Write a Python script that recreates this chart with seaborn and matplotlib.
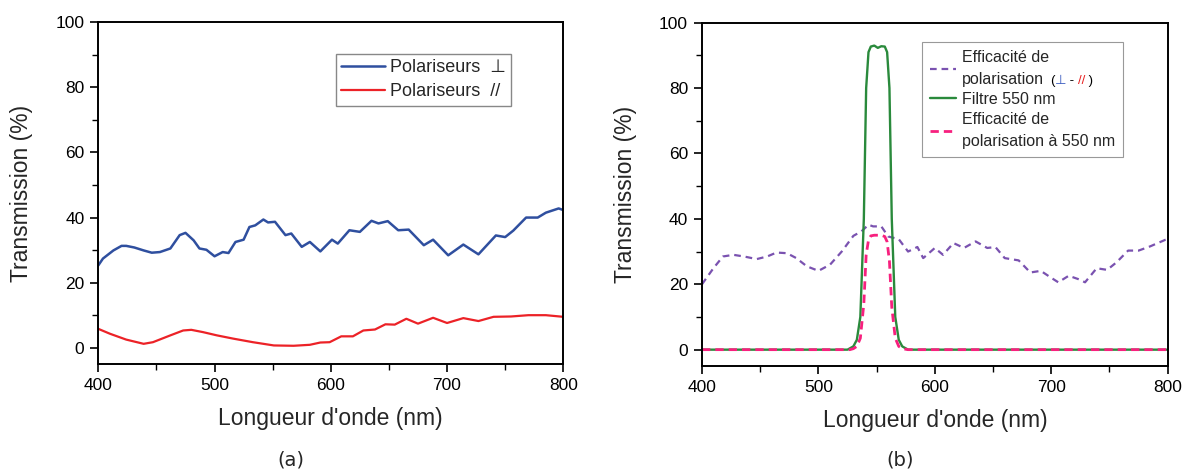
import numpy as np
import pandas as pd
import matplotlib
matplotlib.use("Agg")
import matplotlib.pyplot as plt
from matplotlib.ticker import MultipleLocator
import seaborn as sns

# ---------------- data ----------------
wl_perp = [400, 404, 413, 420, 424, 431, 439, 446, 453, 462, 470, 475, 482, 487, 493, 500,
           507, 512, 518, 525, 530, 535, 542, 546, 552, 561, 566, 575, 582, 591, 601, 606,
           616, 625, 635, 641, 649, 658, 667, 680, 688, 701, 714, 727, 742, 750, 757, 768,
           778, 785, 796, 800]
t_perp = [25.3, 27.4, 29.9, 31.3, 31.3, 30.8, 29.9, 29.2, 29.4, 30.5, 34.6, 35.3, 33.0, 30.5,
          30.1, 28.1, 29.4, 29.1, 32.5, 33.2, 37.1, 37.6, 39.4, 38.5, 38.7, 34.6, 35.1, 31.0,
          32.5, 29.6, 33.2, 32.0, 36.1, 35.6, 39.0, 38.2, 38.9, 36.1, 36.3, 31.5, 33.2, 28.4,
          31.7, 28.7, 34.5, 34.0, 36.0, 40.0, 40.0, 41.5, 42.8, 42.3]

wl_par = [400, 410, 424, 439, 447, 462, 473, 480, 490, 502, 516, 533, 551, 568, 582, 591,
          599, 609, 619, 628, 638, 647, 655, 665, 675, 688, 700, 714, 727, 740, 755, 770,
          785, 800]
t_par = [5.8, 4.3, 2.5, 1.2, 1.7, 3.8, 5.3, 5.5, 4.8, 3.8, 2.8, 1.7, 0.7, 0.6, 0.9, 1.6,
         1.7, 3.5, 3.5, 5.3, 5.6, 7.2, 7.1, 8.9, 7.4, 9.2, 7.6, 9.1, 8.2, 9.5, 9.6, 10.0,
         10.0, 9.5]

wl_eff = [400, 410, 418, 427, 436, 447, 456, 464, 473, 481, 490, 500, 510, 520, 530, 537,
          543, 547, 554, 560, 569, 577, 585, 590, 600, 607, 616, 625, 635, 645, 652, 660,
          672, 682, 691, 699, 706, 715, 723, 729, 739, 748, 756, 766, 775, 785, 798, 800]
t_eff = [20.0, 25.0, 28.5, 29.0, 28.5, 27.7, 28.5, 29.7, 29.5, 28.0, 25.5, 24.1, 26.0, 30.0,
         34.8, 36.2, 38.2, 37.7, 37.7, 34.6, 33.8, 30.0, 31.4, 28.0, 31.1, 29.0, 32.6, 31.1,
         33.1, 31.1, 31.4, 28.0, 27.3, 23.6, 24.1, 22.2, 20.6, 22.6, 21.6, 20.6, 24.9, 24.4,
         26.7, 30.3, 30.3, 31.6, 33.6, 33.8]

wl_filt = [400, 525, 530, 533, 536, 539, 541, 543, 545, 548, 551, 554, 557, 559, 561, 563,
           566, 569, 572, 577, 800]
t_filt = [0.0, 0.0, 1.0, 3.0, 10.0, 40.0, 80.0, 91.0, 92.7, 93.0, 92.3, 92.8, 92.7, 91.0,
          80.0, 40.0, 10.0, 3.0, 1.0, 0.0, 0.0]

wl_eff550 = [400, 527, 530, 533, 536, 539, 541, 543, 545, 548, 551, 554, 557, 559, 561, 563,
             566, 569, 572, 577, 800]
t_eff550 = [0.0, 0.0, 0.3, 1.0, 3.5, 14.0, 29.0, 33.5, 34.8, 35.0, 35.0, 35.0, 34.6, 33.0,
            27.0, 13.0, 3.5, 1.0, 0.3, 0.0, 0.0]

x_ticks = [400, 500, 600, 700, 800]
y_ticks = [0, 20, 40, 60, 80, 100]

# ---------------- style ----------------
sns.set_theme(style="ticks")
plt.rcParams["font.family"] = ["Liberation Sans", "DejaVu Sans"]
plt.rcParams["axes.linewidth"] = 1.4
plt.rcParams["xtick.major.width"] = 1.2
plt.rcParams["ytick.major.width"] = 1.2
plt.rcParams["xtick.minor.width"] = 1.0
plt.rcParams["ytick.minor.width"] = 1.0
plt.rcParams["xtick.color"] = "black"
plt.rcParams["ytick.color"] = "black"
plt.rcParams["axes.edgecolor"] = "black"
plt.rcParams["lines.solid_joinstyle"] = "round"

W, H = 1184, 470
fig = plt.figure(figsize=(W / 100, H / 100), dpi=100)
ax1 = fig.add_axes([98.3 / W, 1 - 364 / H, 465 / W, 341.7 / H])
ax2 = fig.add_axes([702 / W, 1 - 366 / H, 465.7 / W, 343.3 / H])

c_blue = "#2f4f9f"
c_red = "#ec2227"
c_purple = "#7a52b0"
c_green = "#2a8a3c"
c_pink = "#f7207e"

df_perp = pd.DataFrame({"wl": wl_perp, "T": t_perp})
df_par = pd.DataFrame({"wl": wl_par, "T": t_par})
df_eff = pd.DataFrame({"wl": wl_eff, "T": t_eff})
df_filt = pd.DataFrame({"wl": wl_filt, "T": t_filt})
df_e550 = pd.DataFrame({"wl": wl_eff550, "T": t_eff550})

sns.lineplot(data=df_perp, x="wl", y="T", ax=ax1, color=c_blue, lw=1.8,
             label="Polariseurs  \u22a5")
sns.lineplot(data=df_par, x="wl", y="T", ax=ax1, color=c_red, lw=1.6,
             label="Polariseurs  //")

sns.lineplot(data=df_eff, x="wl", y="T", ax=ax2, color=c_purple, lw=1.6,
             label="Efficacit\u00e9 de\npolarisation", dashes=False)
ax2.lines[-1].set_dashes([3, 2.2])
sns.lineplot(data=df_filt, x="wl", y="T", ax=ax2, color=c_green, lw=1.7,
             label="Filtre 550 nm")
sns.lineplot(data=df_e550, x="wl", y="T", ax=ax2, color=c_pink, lw=2.0,
             label="Efficacit\u00e9 de\npolarisation \u00e0 550 nm")
ax2.lines[-1].set_dashes([3, 1.8])

for ax in (ax1, ax2):
    ax.set_xlim(400, 800)
    ax.set_ylim(-5, 100)
    ax.set_xticks(x_ticks)
    ax.set_yticks(y_ticks)
    ax.xaxis.set_minor_locator(MultipleLocator(50))
    ax.yaxis.set_minor_locator(MultipleLocator(10))
    ax.tick_params(which="major", direction="out", length=6, labelsize=12.5, pad=4)
    ax.tick_params(which="minor", direction="out", length=4)
    for s in ax.spines.values():
        s.set_visible(True)
        s.set_color("black")
    ax.set_xlabel("Longueur d'onde (nm)", fontsize=16.5)
    ax.set_ylabel("Transmission (%)", fontsize=16.5)
    ax.xaxis.set_label_coords(0.5, -0.125)
ax1.yaxis.set_label_coords(-0.14, 0.5)
ax2.yaxis.set_label_coords(-0.14, 0.5)

leg1 = ax1.legend(loc="upper left", bbox_to_anchor=(336 / W, 1 - 54 / H),
                  bbox_transform=fig.transFigure, borderaxespad=0, fontsize=13,
                  frameon=True, fancybox=False, edgecolor="#888888", framealpha=1,
                  handlelength=2.4, handletextpad=0.3, labelspacing=0.38, borderpad=0.3)
leg1.get_frame().set_linewidth(1.0)

leg2 = ax2.legend(loc="upper left", bbox_to_anchor=(922 / W, 1 - 42 / H),
                  bbox_transform=fig.transFigure, borderaxespad=0, fontsize=11.5,
                  frameon=True, fancybox=False, edgecolor="#999999", framealpha=1,
                  handlelength=1.6, handletextpad=0.4, labelspacing=0.3, borderpad=0.5)
leg2.get_frame().set_linewidth(0.8)
for t in leg2.get_texts():
    t.set_linespacing(1.6)

fig.text(291 / W, 1 - 460 / H, "(a)", fontsize=14, ha="center", va="center",
         family=["DejaVu Sans"])
fig.text(900 / W, 1 - 460 / H, "(b)", fontsize=14, ha="center", va="center",
         family=["DejaVu Sans"])

# coloured "(⊥ - // )" after "polarisation" in the second legend
fig.canvas.draw()
r = fig.canvas.get_renderer()
lt = leg2.get_texts()[0]
bb = lt.get_window_extent(r)
fp = lt.get_fontproperties()
w, h, d = r.get_text_width_height_descent("polarisation ", fp, ismath=False)
xpix = bb.x0 + w + 2
ypix = bb.y0 + d
pieces = [("(", "black"), ("\u22a5", "#3a5cc0"), (" - ", "black"), ("//", "#e82020"),
          (" )", "black")]
for s, c in pieces:
    t = fig.text(xpix / W, ypix / H, s, fontsize=9.5, color=c, va="baseline", ha="left",
                 family=["Liberation Sans", "DejaVu Sans"])
    ext = t.get_window_extent(r)
    xpix = ext.x1

fig.savefig("out.png", dpi=100)
